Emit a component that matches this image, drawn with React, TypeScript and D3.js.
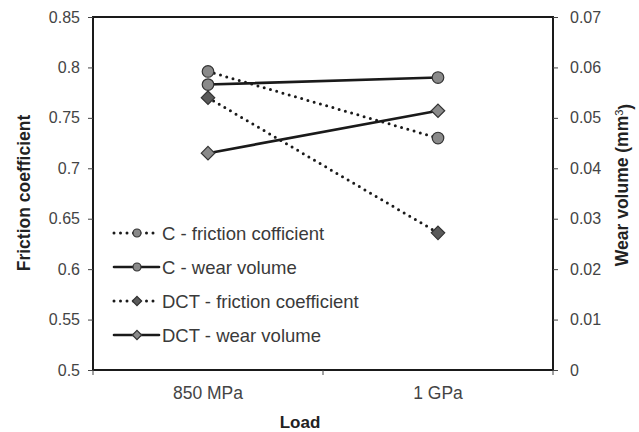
import { useEffect, useRef } from "react";
import * as d3 from "d3";

const WIDTH = 639;
const HEIGHT = 432;
const MARGIN = { top: 17, right: 86, bottom: 62, left: 93 };

const loads = ["850 MPa", "1 GPa"];
const cFriction = [0.796, 0.73];
const cWear = [0.0566, 0.058];
const dctFriction = [0.77, 0.636];
const dctWear = [0.043, 0.0514];

const leftTicks = [0.5, 0.55, 0.6, 0.65, 0.7, 0.75, 0.8, 0.85];
const rightTicks = [0, 0.01, 0.02, 0.03, 0.04, 0.05, 0.06, 0.07];

const legendLabels = [
  "C - friction cofficient",
  "C - wear volume",
  "DCT - friction coefficient",
  "DCT - wear volume",
];

const FONT = "'Liberation Sans', Arial, sans-serif";

const App = () => {
  const ref = useRef<SVGSVGElement>(null);

  useEffect(() => {
    const svg = d3.select(ref.current);
    svg.selectAll("*").remove();

    const w = WIDTH - MARGIN.left - MARGIN.right;
    const h = HEIGHT - MARGIN.top - MARGIN.bottom;

    const x = d3.scaleBand().domain(loads).range([0, w]);
    const yL = d3.scaleLinear().domain([0.5, 0.85]).range([h, 0]);
    const yR = d3.scaleLinear().domain([0, 0.07]).range([h, 0]);

    const g = svg
      .append("g")
      .attr("transform", `translate(${MARGIN.left},${MARGIN.top})`);

    // frame
    g.append("rect")
      .attr("width", w)
      .attr("height", h)
      .attr("fill", "none")
      .attr("stroke", "#1a1a1a")
      .attr("stroke-width", 2);

    const styleAxis = (sel: any) => {
      sel.select(".domain").remove();
      sel.selectAll("line").attr("stroke", "#444").attr("stroke-width", 1);
      sel
        .selectAll("text")
        .attr("fill", "#444")
        .style("font-family", FONT)
        .style("font-size", "16px");
    };

    g.append("g")
      .call(
        d3
          .axisLeft(yL)
          .tickValues(leftTicks)
          .tickSize(5)
          .tickPadding(8)
          .tickFormat((d) => String(d))
      )
      .call(styleAxis);

    g.append("g")
      .attr("transform", `translate(${w},0)`)
      .call(
        d3
          .axisRight(yR)
          .tickValues(rightTicks)
          .tickSize(5)
          .tickPadding(12)
          .tickFormat((d) => String(d))
      )
      .call(styleAxis);

    // x axis: ticks at band edges, labels at centres
    const xAxis = g.append("g").attr("transform", `translate(0,${h})`);
    const edges = [0, ...loads.map((l) => (x(l) ?? 0) + x.bandwidth())];
    xAxis
      .selectAll("line")
      .data(edges)
      .join("line")
      .attr("x1", (d) => d)
      .attr("x2", (d) => d)
      .attr("y1", 0)
      .attr("y2", 5)
      .attr("stroke", "#444");
    xAxis
      .selectAll("text")
      .data(loads)
      .join("text")
      .attr("x", (d) => (x(d) ?? 0) + x.bandwidth() / 2)
      .attr("y", 23)
      .attr("dy", "0.35em")
      .attr("text-anchor", "middle")
      .attr("fill", "#444")
      .style("font-family", FONT)
      .style("font-size", "17.5px")
      .text((d) => d);

    // axis titles
    svg
      .append("text")
      .attr("x", 300)
      .attr("y", 422)
      .attr("dy", "0.35em")
      .attr("text-anchor", "middle")
      .attr("fill", "#222")
      .style("font-family", FONT)
      .style("font-size", "17px")
      .style("font-weight", "bold")
      .text("Load");

    svg
      .append("text")
      .attr("transform", `translate(24,193) rotate(-90)`)
      .attr("dy", "0.35em")
      .attr("text-anchor", "middle")
      .attr("fill", "#222")
      .style("font-family", FONT)
      .style("font-size", "17.5px")
      .style("font-weight", "bold")
      .text("Friction coefficient");

    const rt = svg
      .append("text")
      .attr("transform", `translate(622,185) rotate(-90)`)
      .attr("dy", "0.35em")
      .attr("text-anchor", "middle")
      .attr("fill", "#222")
      .style("font-family", FONT)
      .style("font-size", "17.5px")
      .style("font-weight", "bold");
    rt.append("tspan").text("Wear volume (mm");
    rt.append("tspan")
      .attr("dy", "-0.5em")
      .style("font-size", "11px")
      .style("font-weight", "normal")
      .text("3");
    rt.append("tspan").attr("dy", "0.5em").text(")");

    const series = [
      { values: cFriction, y: yL, dotted: true, shape: "circle", fill: "#8a8a8a" },
      { values: cWear, y: yR, dotted: false, shape: "circle", fill: "#8a8a8a" },
      { values: dctFriction, y: yL, dotted: true, shape: "diamond", fill: "#5a5a5a" },
      { values: dctWear, y: yR, dotted: false, shape: "diamond", fill: "#8a8a8a" },
    ];

    const cx = (i: number) => (x(loads[i]) ?? 0) + x.bandwidth() / 2;

    const drawLine = (sel: any, dotted: boolean) => {
      sel
        .attr("fill", "none")
        .attr("stroke", "#1a1a1a")
        .attr("stroke-width", dotted ? 3 : 2.6)
        .attr("stroke-linecap", "round")
        .attr("stroke-dasharray", dotted ? "0 6.5" : null);
    };

    const drawMarker = (
      parent: any,
      shape: string,
      fill: string,
      px: number,
      py: number,
      size: number
    ) => {
      const sym = shape === "circle" ? d3.symbolCircle : d3.symbolDiamond2;
      parent
        .append("path")
        .attr("d", d3.symbol(sym, size)())
        .attr("transform", `translate(${px},${py})`)
        .attr("fill", fill)
        .attr("stroke", "#333")
        .attr("stroke-width", 1.2);
    };

    series.forEach((s) => {
      const line = d3
        .line<number>()
        .x((_, i) => cx(i))
        .y((d) => s.y(d));
      g.append("path").attr("d", line(s.values)).call(drawLine, s.dotted);
    });
    series.forEach((s) => {
      s.values.forEach((v, i) =>
        drawMarker(g, s.shape, s.fill, cx(i), s.y(v), s.shape === "circle" ? 105 : 115)
      );
    });

    // legend
    const leg = svg.append("g");
    legendLabels.forEach((label, i) => {
      const s = series[i];
      const ly = 233 + i * 34;
      leg
        .append("path")
        .attr("d", `M114,${ly}H159`)
        .call(drawLine, s.dotted);
      drawMarker(leg, s.shape, s.fill, 137, ly, s.shape === "circle" ? 50 : 55);
      leg
        .append("text")
        .attr("x", 162)
        .attr("y", ly)
        .attr("dy", "0.36em")
        .attr("fill", "#3a3a3a")
        .style("font-family", FONT)
        .style("font-size", "18.5px")
        .text(label);
    });
  }, []);

  return (
    <svg
      ref={ref}
      width={WIDTH}
      height={HEIGHT}
      style={{ position: "absolute", left: 0, top: 0, background: "#fff" }}
    />
  );
};

export default App;
